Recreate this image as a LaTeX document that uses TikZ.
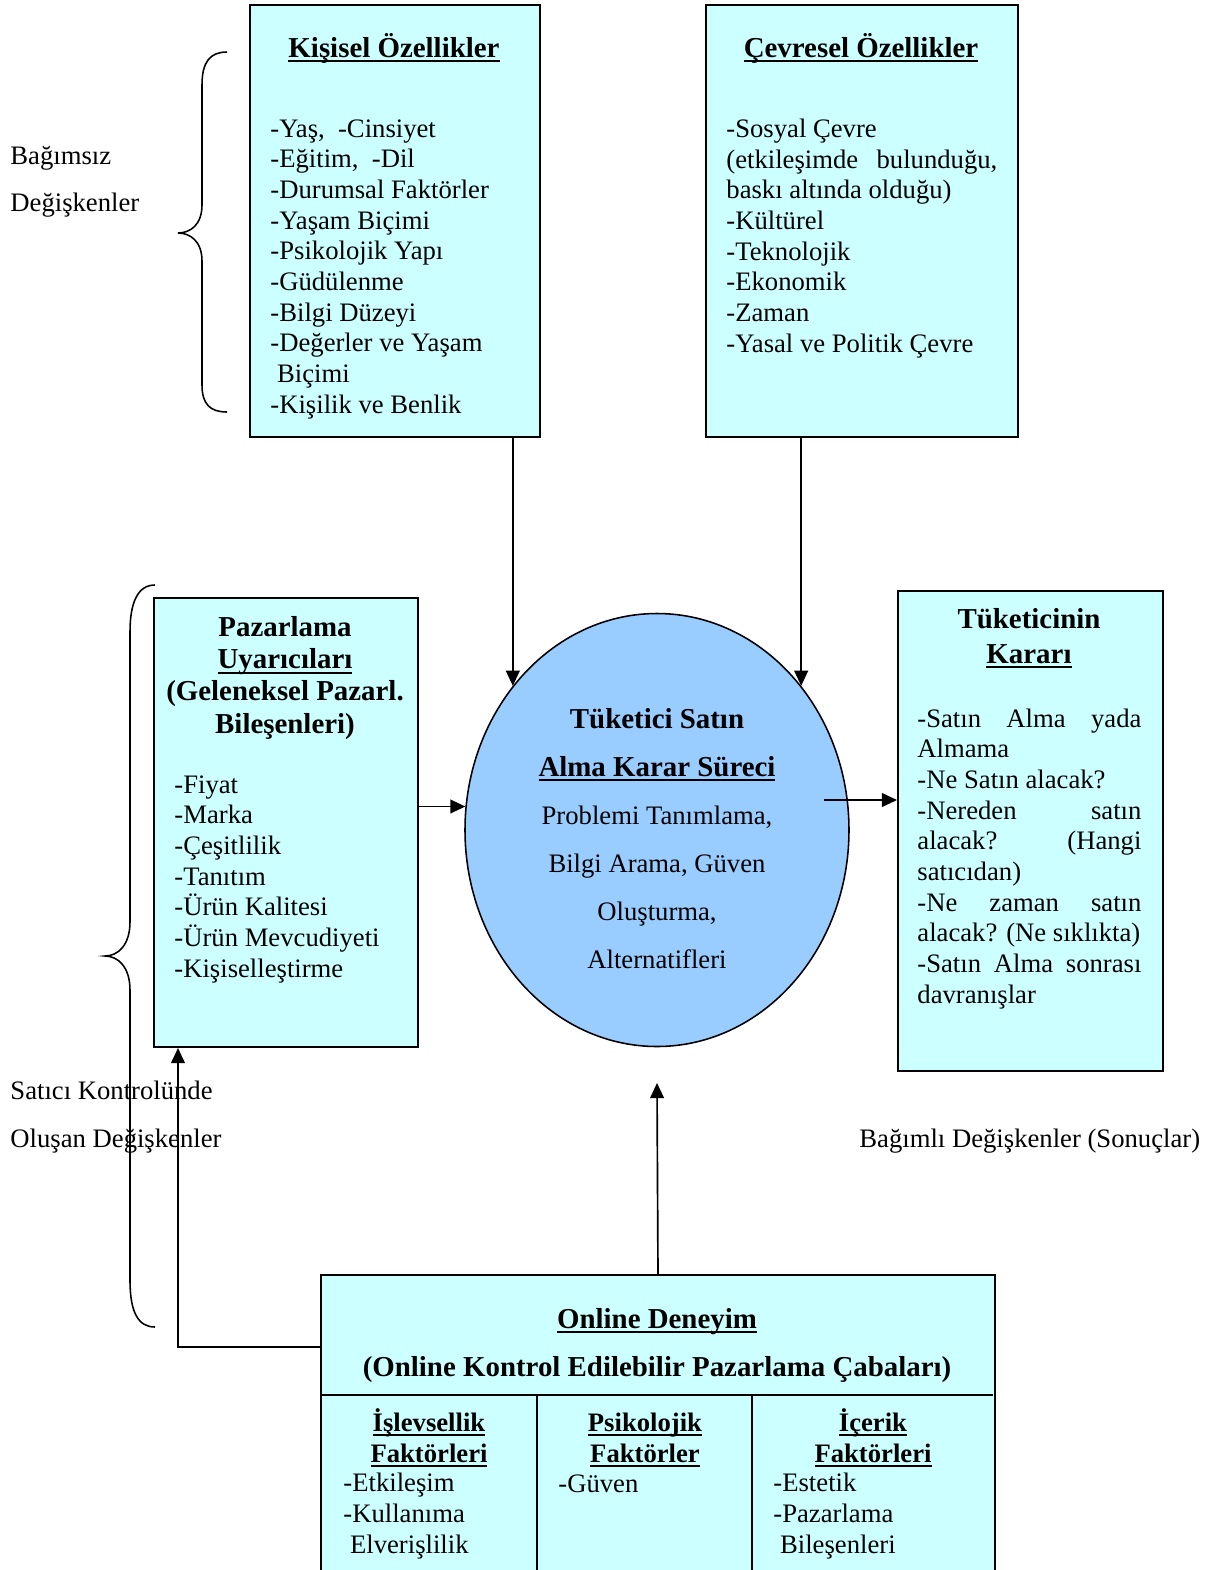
\documentclass[tikz,border=0pt]{standalone}
\usepackage{fontspec}
\setmainfont{Liberation Serif}
\usetikzlibrary{shapes.geometric,arrows.meta,calc}
\definecolor{boxcyan}{HTML}{CCFFFF}
\definecolor{procblue}{HTML}{99CCFF}
% underline at a fixed depth, as a word processor draws it
\newcommand\ulx[1]{\setbox0\hbox{#1}\rlap{\rule[-2.3pt]{\wd0}{0.9pt}}\box0}
% a justified line of given width
\newcommand\jline[2]{\makebox[#1][s]{#2}}
\def\ux{0.45pt}

\begin{document}
\begin{tikzpicture}[x=0.45pt,y=-0.45pt,
  panel/.style={draw=black,line width=0.9pt,fill=boxcyan,anchor=north west,inner sep=0pt},
  % multi-line nodes are placed by the baseline of their last line
  body/.style={font=\fontsize{12}{13.8}\selectfont,align=left,inner sep=0pt,anchor=base west},
  head/.style={font=\fontsize{13}{14.5}\selectfont\bfseries,align=center,inner sep=0pt,anchor=base},
  colhead/.style={font=\fontsize{12}{13.9}\selectfont\bfseries,align=center,inner sep=0pt,anchor=base},
  plain/.style={font=\fontsize{12}{13.8}\selectfont,inner sep=0pt,anchor=base west},
  arr/.style={line width=0.75pt,-{Triangle[length=6.8pt,width=6.2pt]}},
  brace/.style={line width=0.7pt},
  rule/.style={line width=0.9pt},
]
\useasboundingbox (0,0) rectangle (1213,1570);

% ---------- panels ----------
\node[panel,minimum width=290*\ux,minimum height=432*\ux] (b1) at (249,4) {};
\node[panel,minimum width=312*\ux,minimum height=432*\ux] (b2) at (705,4) {};
\node[panel,minimum width=264*\ux,minimum height=449*\ux] (b3) at (153,597) {};
\node[panel,minimum width=265*\ux,minimum height=480*\ux] (b4) at (897,590) {};
\node[ellipse,draw=black,line width=0.7pt,fill=procblue,inner sep=0pt,
      minimum width=384*\ux,minimum height=433*\ux] (ell) at (657,830) {};
\node[panel,draw=none,minimum width=672*\ux,minimum height=300*\ux] (bb) at (321,1275) {};
\draw[rule] (bb.south west) -- (bb.north west) -- (bb.north east) -- (bb.south east);
\draw[rule] (321,1395) -- (993,1395);
\draw[rule] (537,1395) -- (537,1575);
\draw[rule] (752,1395) -- (752,1575);

% ---------- personal features ----------
\node[head] (t1) at (394,57) {\ulx{Kişisel Özellikler}};
\node[body] (l1) at (270,413) {-Yaş,\ \ -Cinsiyet\\-Eğitim,\ \ -Dil\\-Durumsal Faktörler\\-Yaşam Biçimi\\-Psikolojik Yapı\\-Güdülenme\\-Bilgi Düzeyi\\-Değerler ve Yaşam\\\ Biçimi\\-Kişilik ve Benlik};

% ---------- environmental features ----------
\node[head] (t2) at (861,57) {\ulx{Çevresel Özellikler}};
\node[body] (l2) at (726,352) {-Sosyal Çevre\\\jline{121.9pt}{(etkileşimde bulunduğu,}\\baskı altında olduğu)\\-Kültürel\\-Teknolojik\\-Ekonomik\\-Zaman\\-Yasal ve Politik Çevre};

% ---------- marketing stimuli ----------
\node[head] (t3) at (285,733) {Pazarlama\\\ulx{Uyarıcıları}\\(Geleneksel Pazarl.\\Bileşenleri)};
\node[body] (l3) at (174,977) {-Fiyat\\-Marka\\-Çeşitlilik\\-Tanıtım\\-Ürün Kalitesi\\-Ürün Mevcudiyeti\\-Kişiselleştirme};

% ---------- decision process ----------
\node[font=\fontsize{12}{21.6}\selectfont,align=center,inner sep=0pt,anchor=base] (et) at (657,968)
  {{\fontsize{13}{21.6}\selectfont\bfseries Tüketici Satın}\\
   {\fontsize{13}{21.6}\selectfont\bfseries\ulx{Alma Karar Süreci}}\\
   Problemi Tanımlama,\\Bilgi Arama, Güven\\Oluşturma,\\Alternatifleri};

% ---------- consumer decision ----------
\node[head,font=\fontsize{13}{15.7}\selectfont\bfseries] (t4) at (1029,663) {Tüketicinin\\\ulx{Kararı}};
\node[body] (l4) at (917,1003) {\jline{100.8pt}{-Satın Alma yada}\\Almama\\-Ne Satın alacak?\\\jline{100.8pt}{-Nereden satın}\\\jline{100.8pt}{alacak? (Hangi}\\satıcıdan)\\\jline{100.8pt}{-Ne zaman satın}\\alacak? (Ne sıklıkta)\\\jline{100.8pt}{-Satın Alma sonrası}\\davranışlar};

% ---------- online experience ----------
\node[head] (t5) at (657,1328) {\ulx{Online Deneyim}};
\node[head] (t6) at (657,1376) {(Online Kontrol Edilebilir Pazarlama Çabaları)};
\node[colhead] (c1) at (429,1462) {\ulx{İşlevsellik}\\\ulx{Faktörleri}};
\node[colhead] (c2) at (645,1462) {\ulx{Psikolojik}\\\ulx{Faktörler}};
\node[colhead] (c3) at (873,1462) {\ulx{İçerik}\\\ulx{Faktörleri}};
\node[body] (d1) at (343,1553) {-Etkileşim\\-Kullanıma\\\ Elverişlilik};
\node[body] (d2) at (558,1492) {-Güven};
\node[body] (d3) at (773,1553) {-Estetik\\-Pazarlama\\\ Bileşenleri};

% ---------- side labels ----------
\node[plain] (lb1) at (10,164) {Bağımsız};
\node[plain] (lb2) at (10,211) {Değişkenler};
\node[plain] (lb3) at (10,1099) {Satıcı Kontrolünde};
\node[plain] (lb4) at (10,1147) {Oluşan Değişkenler};
\node[plain] (lb5) at (859,1147) {Bağımlı Değişkenler (Sonuçlar)};

% ---------- braces ----------
\draw[brace] (227,52) .. controls (210,52) and (202,62) .. (202,85) -- (202,205)
  .. controls (202,225) and (190,233) .. (178,233)
  .. controls (190,233) and (202,241) .. (202,261) -- (202,385)
  .. controls (202,404) and (210,412) .. (227,412);
\draw[brace] (155,585) .. controls (138,585) and (130,602) .. (130,632) -- (130,922)
  .. controls (130,945) and (118,956) .. (105,956)
  .. controls (118,956) and (130,967) .. (130,990) -- (130,1280)
  .. controls (130,1312) and (138,1327) .. (155,1327);

% ---------- connectors ----------
\coordinate (eo) at (824,800);
\coordinate (up) at (657,1083);
\coordinate (bl) at (321,1347);
\draw[arr] (b1.south -| ell.135) -- (ell.135);
\draw[arr] (b2.south -| ell.45) -- (ell.45);
\draw[arr] (b3.east |- ell.173) -- (ell.173);
\draw[arr] (eo) -- (eo -| b4.west);
\draw[arr] (bb.north) -- (up);
\draw[arr] (bl) -| ([xshift=25*\ux]b3.south west);
\end{tikzpicture}
\end{document}
